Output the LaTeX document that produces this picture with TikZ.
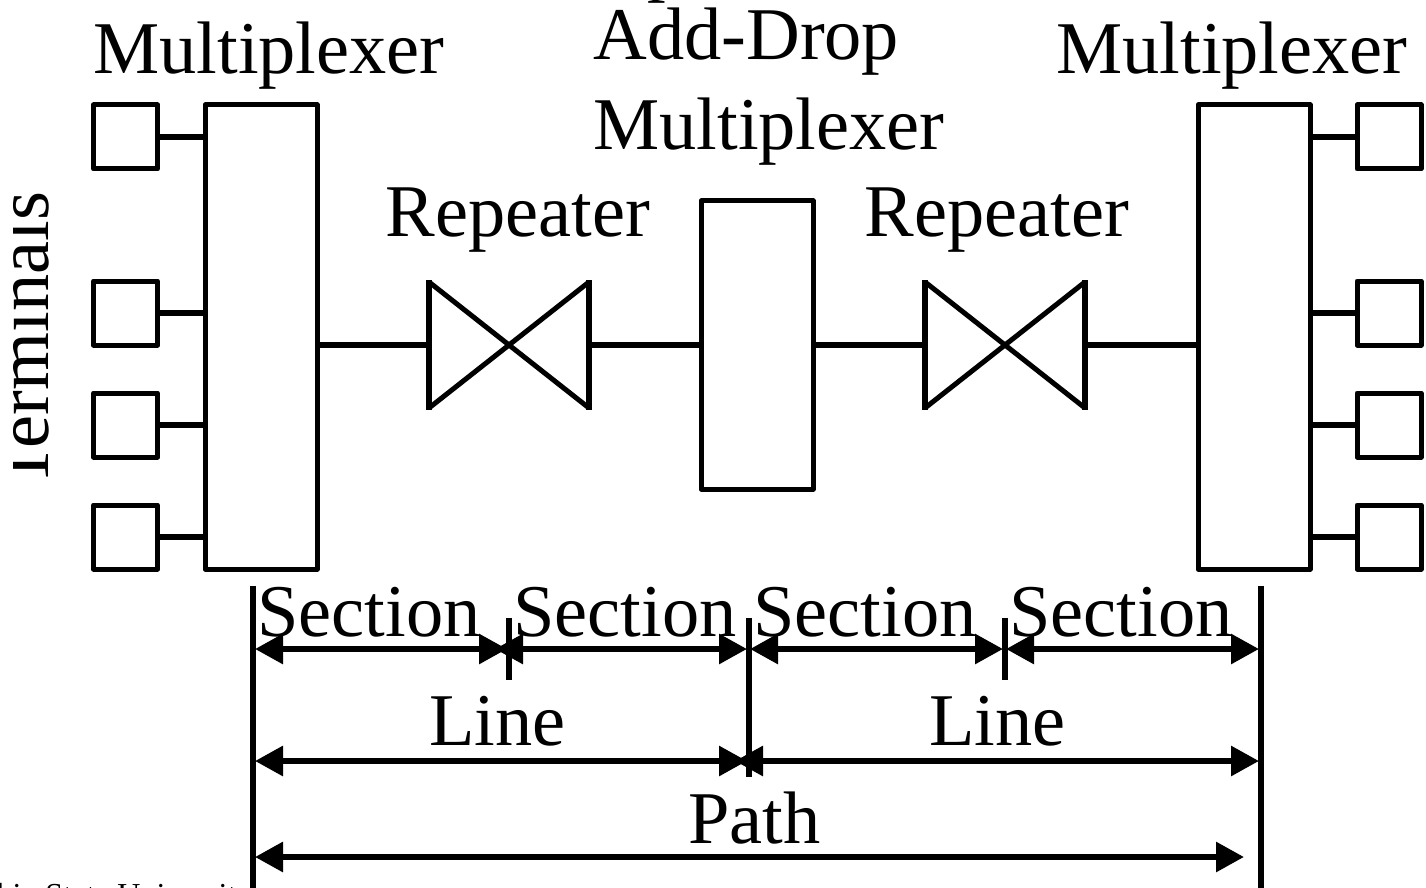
\documentclass[tikz,border=0pt]{standalone}
\usepackage{fontspec}
\setmainfont{Liberation Serif}
\usetikzlibrary{arrows.meta}
\tikzset{
	x=0.5pt,
	y=-0.5pt,
	thinline/.style = {
		line width=2.5pt,
		line join=round
	},
	thickline/.style = {
		line width=3pt
	},
	box/.style = {
		shape=rectangle,
		draw,
		thinline,
		inner sep=0pt,
		outer sep=0pt
	},
	terminal/.style = {
		box,
		minimum width=32pt,
		minimum height=32pt
	},
	mux/.style = {
		box,
		minimum width=56pt,
		minimum height=232pt
	},
	adm/.style = {
		box,
		minimum width=56pt,
		minimum height=144pt
	},
	label/.style = {
		font=\fontsize{37.2}{43}\selectfont,
		inner sep=0pt,
		anchor=base west
	},
	span/.style = {
		thickline,
		{Triangle[length=14pt,width=14.5pt]}-{Triangle[length=14pt,width=14.5pt]}
	}
}
\newcommand{\repeaterat}[3]{
	\coordinate (#1) at (#2,#3);
	\coordinate (#1w) at (#2-80,#3);
	\coordinate (#1e) at (#2+80,#3);
	\draw[thinline] (#2-80,#3-63) -- (#2+80,#3+63);
	\draw[thinline] (#2+80,#3-63) -- (#2-80,#3+63);
	\draw[thickline] (#2-80,#3-65) -- (#2-80,#3+65);
	\draw[thickline] (#2+80,#3-65) -- (#2+80,#3+65);
}
\begin{document}
\begin{tikzpicture}
	\path[use as bounding box, clip] (0,0) rectangle (1426,888);
	\node[mux] (muxL) at (261,337) {};
	\node[mux] (muxR) at (1254,337) {};
	\node[adm] (addDrop) at (757,345) {};
	\foreach \name/\ypos in {a/137,b/313,c/425,d/537} {
		\node[terminal] (termL\name) at (125.5,\ypos) {};
		\node[terminal] (termR\name) at (1389,\ypos) {};
		\draw[thickline] (termL\name.east) -- (termL\name -| muxL.west);
		\draw[thickline] (termR\name.west) -- (termR\name -| muxR.east);
	}
	\repeaterat{repA}{509}{345}
	\repeaterat{repB}{1005}{345}
	\draw[thickline] (muxL.east |- repAw) -- (repAw);
	\draw[thickline] (repAe) -- (addDrop.west |- repAe);
	\draw[thickline] (addDrop.east |- repBw) -- (repBw);
	\draw[thickline] (repBe) -- (muxR.west |- repBe);
	\node[label] (muxLabelL) at (93,74) {Multiplexer};
	\node[label] (muxLabelR) at (1056,74) {Multiplexer};
	\node[label] (optLabel) at (593,-12) {Optical};
	\node[label] (addLabel) at (593,60) {Add-Drop};
	\node[label] (muxLabelC) at (593,150) {Multiplexer};
	\node[label] (repLabelA) at (385,236) {Repeater};
	\node[label] (repLabelB) at (864,236) {Repeater};
	\begin{scope}
		\clip (13,150) rectangle (70,520);
		\node[label, rotate=90] (termLabel) at (48,489) {Terminals};
	\end{scope}
	\node[label] (secLabelA) at (257,636) {Section};
	\node[label] (secLabelB) at (513,636) {Section};
	\node[label] (secLabelC) at (753,636) {Section};
	\node[label] (secLabelD) at (1009,636) {Section};
	\node[label] (lineLabelA) at (429,745) {Line};
	\node[label] (lineLabelB) at (929,745) {Line};
	\node[label] (pathLabel) at (688,843) {Path};
	\node[label, font=\fontsize{16}{18}\selectfont] (ohioLabel) at (-27,905) {Ohio State University};
	\coordinate (startTop) at (253,586);
	\coordinate (startEnd) at (253,888);
	\coordinate (stopTop) at (1261,586);
	\coordinate (stopEnd) at (1261,888);
	\coordinate (midTop) at (749,618);
	\coordinate (midEnd) at (749,777);
	\coordinate (secATop) at (509,618);
	\coordinate (secAEnd) at (509,680);
	\coordinate (secBTop) at (1005,618);
	\coordinate (secBEnd) at (1005,680);
	\draw[thickline] (startTop) -- (startEnd);
	\draw[thickline] (stopTop) -- (stopEnd);
	\draw[thickline] (midTop) -- (midEnd);
	\draw[thickline] (secATop) -- (secAEnd);
	\draw[thickline] (secBTop) -- (secBEnd);
	\draw[span] (255,649) -- (507,649);
	\draw[span] (495,649) -- (747,649);
	\draw[span] (750,649) -- (1003,649);
	\draw[span] (1006,649) -- (1259,649);
	\draw[span] (255,761) -- (747,761);
	\draw[span] (735,761) -- (1259,761);
	\draw[span] (255,857) -- (1244,857);
\end{tikzpicture}
\end{document}
